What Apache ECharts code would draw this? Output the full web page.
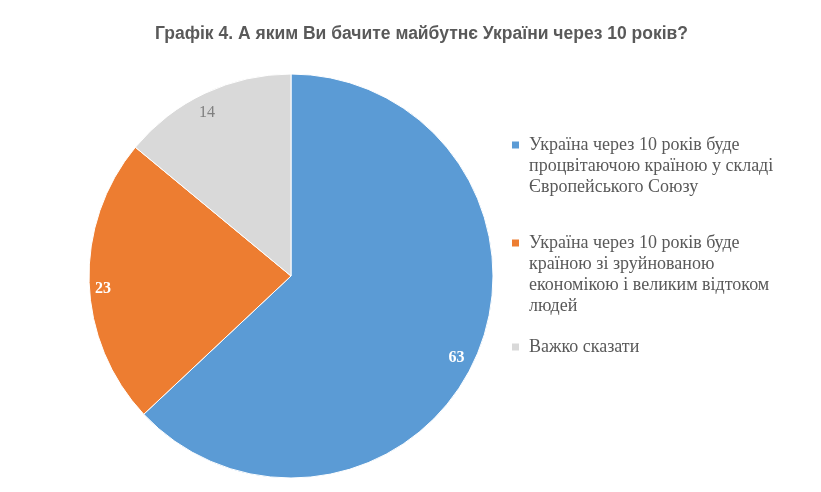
<!DOCTYPE html>
<html>
<head>
<meta charset="utf-8">
<script src="https://cdn.jsdelivr.net/npm/echarts@6/dist/echarts.min.js"></script>
<style>
	html, body { margin: 0; padding: 0; background: #fff; }
	#chart { width: 821px; height: 492px; }
</style>
</head>
<body>
<div id="chart"></div>
<script>
	// дані графіка
	var titleText = 'Графік 4. А яким Ви бачите майбутнє України через 10 років?';
	var categories = [
		'Україна через 10 років буде процвітаючою країною у складі Європейського Союзу',
		'Україна через 10 років буде країною зі зруйнованою економікою і великим відтоком людей',
		'Важко сказати'
	];
	var legendLines = [
		['Україна через 10 років буде', 'процвітаючою країною у складі', 'Європейського Союзу'],
		['Україна через 10 років буде', 'країною зі зруйнованою', 'економікою і великим відтоком', 'людей'],
		['Важко сказати']
	];
	var values = [63, 23, 14];

	var colors = ['#5B9BD5', '#ED7D31', '#D9D9D9'];
	var labelColors = ['#ffffff', '#ffffff', '#7f7f7f'];
	var labelWeights = ['bold', 'bold', 'normal'];
	// горизонтальний зсув підписів як в Excel
	var labelPadding = [[0, 14, 0, 0], [0, 0, 0, 0], [0, 8, 0, 0]];
	var legendIconY = [145, 243, 347];
	var lineH = 21;

	var myChart = echarts.init(document.getElementById('chart'));

	// окрема легенда для кожного пункту, квадратик біля першого рядка
	var legends = categories.map(function(name, i) {
		var n = legendLines[i].length;
		var blank = new Array(n).join('\n'); // n-1 порожніх рядків зверху
		return {
			orient: 'vertical',
			left: 510,
			top: legendIconY[i] - (2 * n - 1) * lineH / 2,
			padding: 0,
			itemWidth: 9,
			itemHeight: 9,
			itemGap: 0,
			icon: 'rect',
			selectedMode: false,
			data: [name],
			formatter: function() { return blank + legendLines[i].join('\n'); },
			textStyle: {
				fontFamily: 'Liberation Serif',
				fontSize: 18,
				lineHeight: lineH,
				color: '#595959',
				padding: [0, 0, 0, 4]
			}
		};
	});

	var option = {
		animation: false,
		title: {
			text: titleText,
			left: 150,
			top: 20,
			textStyle: {
				fontFamily: 'Liberation Sans',
				fontSize: 17.5,
				fontWeight: 'bold',
				color: '#595959'
			}
		},
		legend: legends,
		series: [
			{
				name: 'main',
				type: 'pie',
				center: [291, 276],
				radius: [0, 202],
				startAngle: 90,
				silent: true,
				label: { show: false },
				labelLine: { show: false },
				itemStyle: { borderColor: '#ffffff', borderWidth: 1 },
				data: categories.map(function(name, i) {
					return { name: name, value: values[i], itemStyle: { color: colors[i] } };
				})
			},
			{
				// прозоре кільце лише для підписів біля краю (трохи нижче, як в Excel)
				name: 'labels',
				type: 'pie',
				center: [291, 283],
				radius: [168, 202],
				startAngle: 90,
				silent: true,
				itemStyle: { color: 'rgba(0,0,0,0)' },
				labelLine: { show: false },
				data: categories.map(function(name, i) {
					return {
						name: name,
						value: values[i],
						label: {
							show: true,
							position: 'inside',
							formatter: '{c}',
							fontFamily: 'Liberation Serif',
							fontSize: 16,
							fontWeight: labelWeights[i],
							color: labelColors[i],
							padding: labelPadding[i],
							textBorderWidth: 0
						}
					};
				})
			}
		]
	};
	myChart.setOption(option);
</script>
</body>
</html>
